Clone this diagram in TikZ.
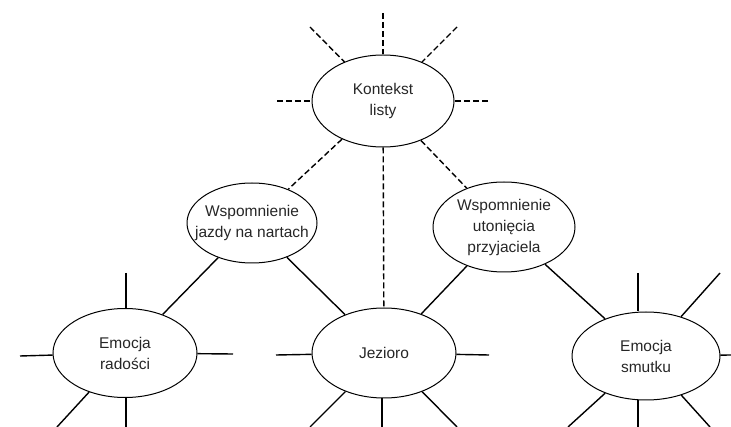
\documentclass[tikz,border=0pt]{standalone}
\usepackage{fontspec}
\setmainfont{Liberation Sans}
\usetikzlibrary{shapes.geometric}
\begin{document}
\begin{tikzpicture}[x=1pt,y=-1pt,
  idea/.style={ellipse,draw,line width=1pt,inner sep=0pt},
  txt/.style={align=center,inner sep=0pt,font=\fontsize{15.5}{21}\selectfont,text=black!85},
  link/.style={line width=1.4pt},
  dlink/.style={line width=1.4pt,dash pattern=on 6pt off 3pt}]
\useasboundingbox (0,0) rectangle (731,427);
% nodes
\node[idea,minimum width=142pt,minimum height=92pt,label={[txt]center:Kontekst\\listy}] (K) at (383,101) {};
\node[idea,minimum width=130pt,minimum height=80pt,label={[txt]center:Wspomnienie\\jazdy na nartach}] (W1) at (252,223) {};
\node[idea,minimum width=142pt,minimum height=90pt,label={[txt]center:Wspomnienie\\utonięcia\\przyjaciela}] (W2) at (504,227) {};
\node[idea,minimum width=144pt,minimum height=89pt,label={[txt]center:Emocja\\radości}] (R) at (125,353) {};
\node[idea,minimum width=144pt,minimum height=90pt,label={[txt]center:Jezioro}] (J) at (384,353) {};
\node[idea,minimum width=148pt,minimum height=88pt,label={[txt]center:Emocja\\smutku}] (S) at (646,356) {};
% connectors between nodes
\draw[dlink] (K) -- (W1);
\draw[dlink] (K) -- (W2);
\draw[dlink] (K) -- (J);
\draw[link] (W1) -- (R);
\draw[link] (W1) -- (J);
\draw[link] (W2) -- (J);
\draw[link] (W2) -- (S);
% free ends
\coordinate (k1) at (383,13);
\coordinate (k2) at (310,27);
\coordinate (k3) at (457,27);
\coordinate (k4) at (277,101);
\coordinate (k5) at (488,101);
\coordinate (r1) at (126,273);
\coordinate (r2) at (20,356);
\coordinate (r3) at (233,354);
\coordinate (r4) at (57,427);
\coordinate (r5) at (126,427);
\coordinate (j1) at (276,355);
\coordinate (j2) at (489,355);
\coordinate (j3) at (310,427);
\coordinate (j4) at (382,427);
\coordinate (j5) at (457,427);
\coordinate (s1) at (638,273);
\coordinate (s2) at (720,273);
\coordinate (s3) at (731,355);
\coordinate (s4) at (568,427);
\coordinate (s5) at (638,427);
\coordinate (s6) at (710,427);
% spokes
\foreach \c in {k1,k2,k3,k4,k5} \draw[dlink] (\c) -- (K);
\foreach \c in {r2,r3,r4} \draw[link] (\c) -- (R);
\draw[link] (r1) -- (R.north -| r1);
\draw[link] (r5) -- (R.south -| r5);
\foreach \c in {j1,j2,j3,j5} \draw[link] (\c) -- (J);
\draw[link] (j4) -- (J.south -| j4);
\foreach \c in {s2,s3,s4,s6} \draw[link] (\c) -- (S);
\draw[link] (s1) -- (S.north -| s1);
\draw[link] (s5) -- (S.south -| s5);
\end{tikzpicture}
\end{document}
